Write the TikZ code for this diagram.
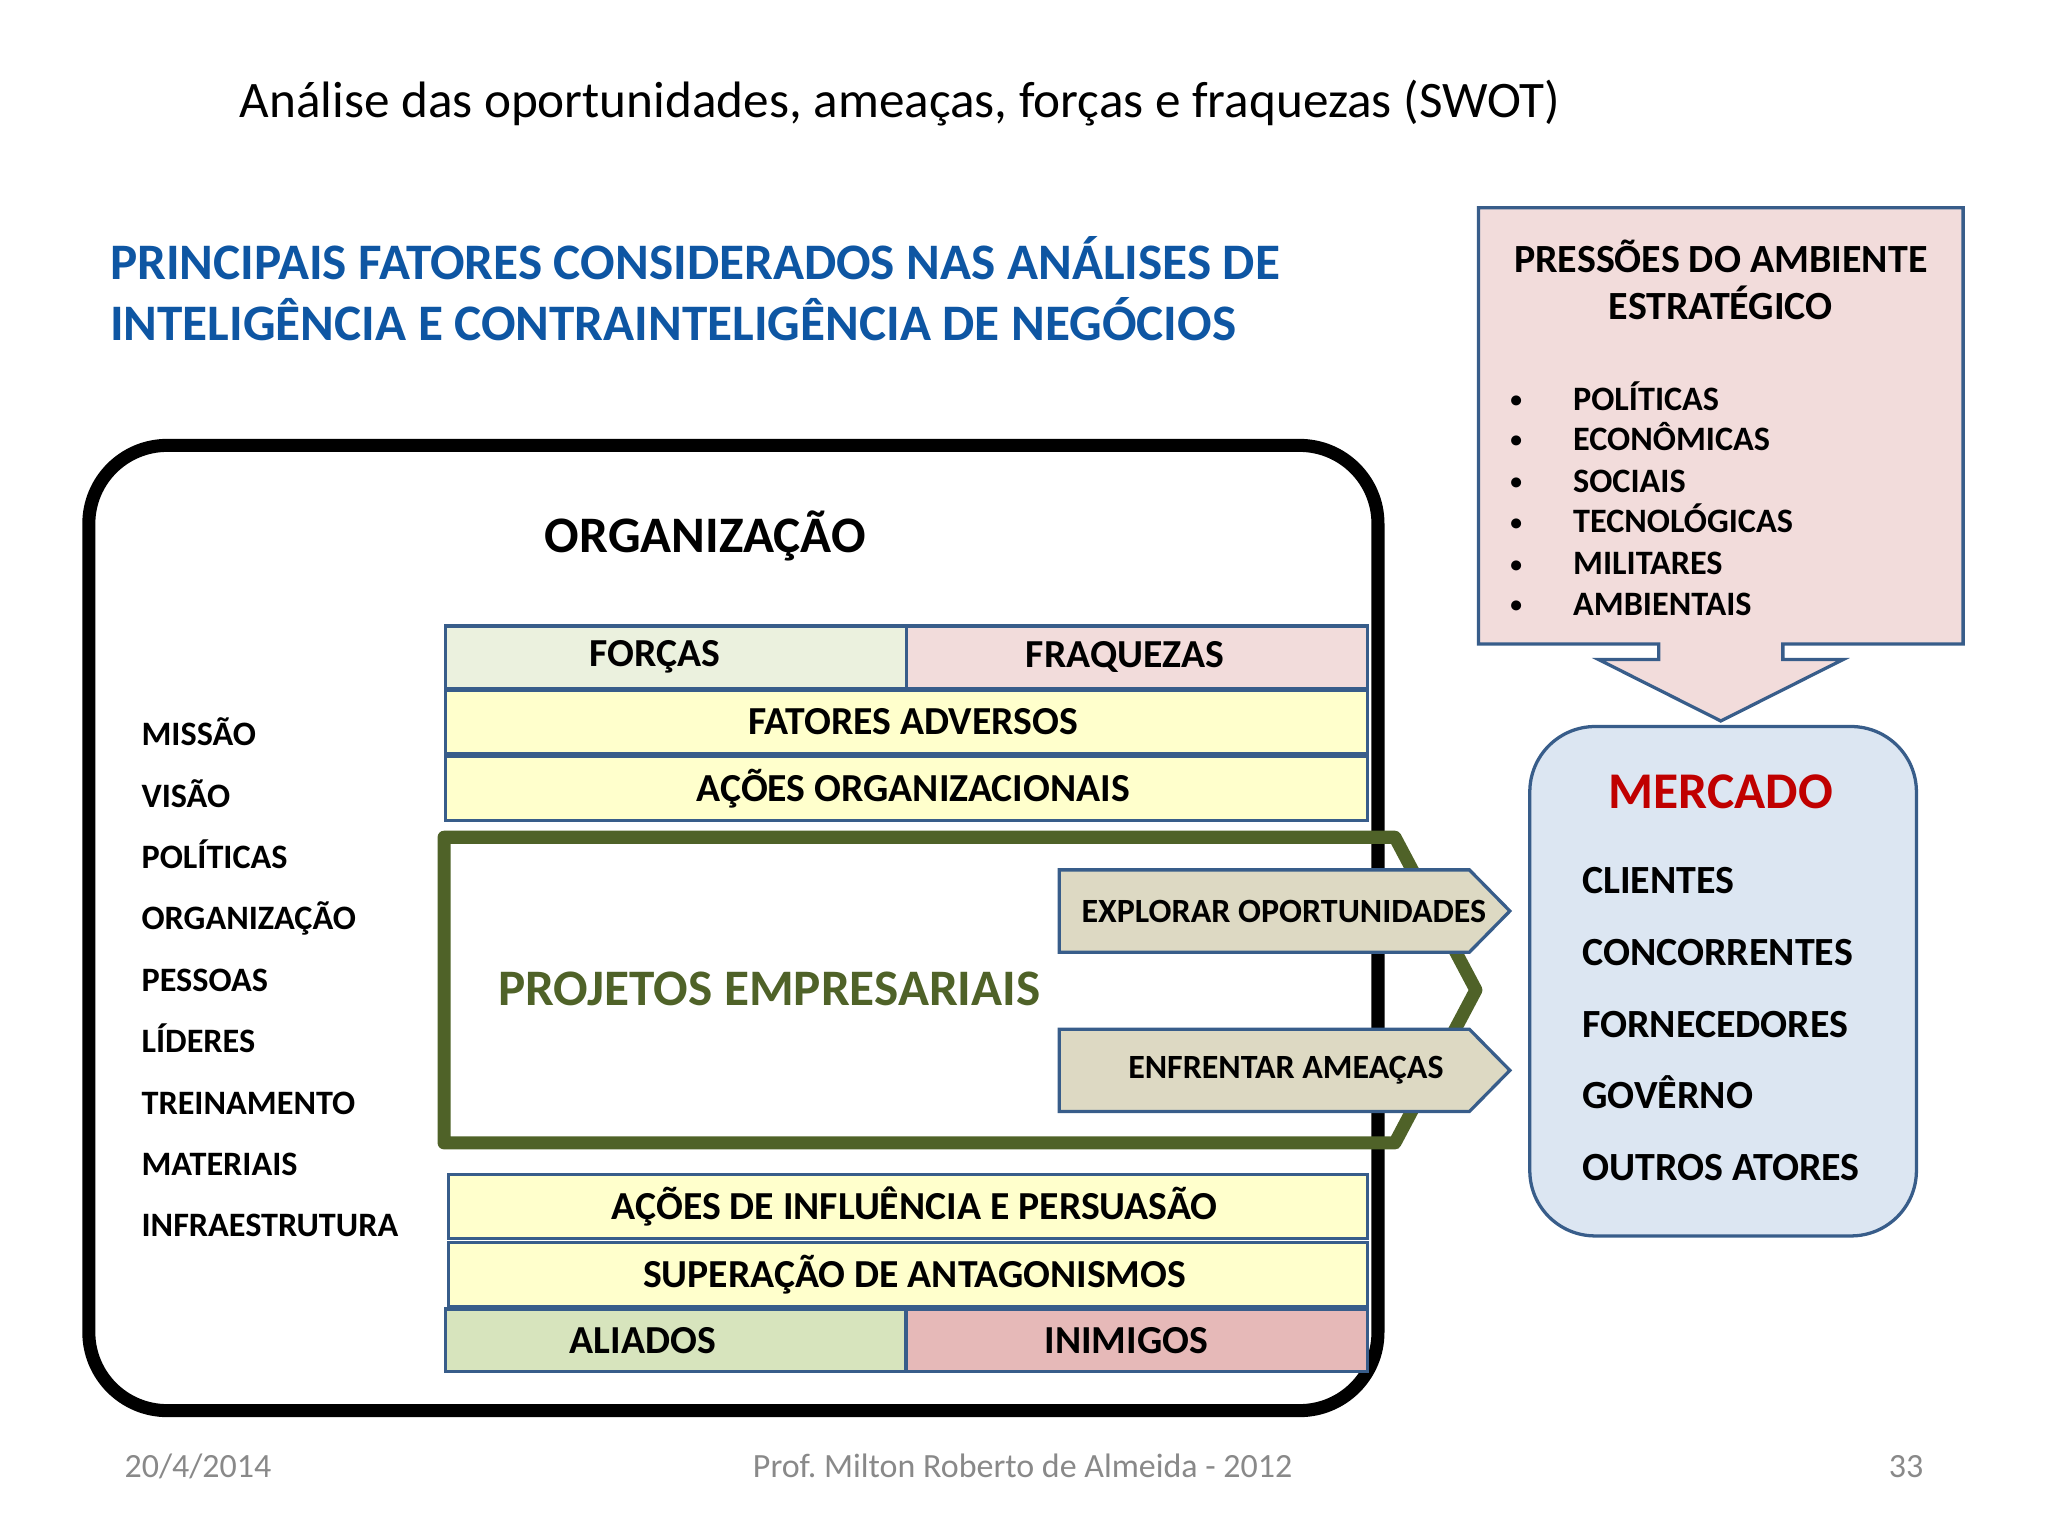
\documentclass[tikz,border=0pt]{standalone}
\usepackage{fontspec}
\setmainfont{Carlito}
\frenchspacing
\definecolor{boxblue}{HTML}{385D8A}
\definecolor{headblue}{HTML}{0E56A3}
\definecolor{pressfill}{HTML}{F2DCDB}
\definecolor{mercfill}{HTML}{DCE6F2}
\definecolor{forcfill}{HTML}{EBF1DE}
\definecolor{fraqfill}{HTML}{F2DCDB}
\definecolor{barfill}{HTML}{FFFFCC}
\definecolor{aliafill}{HTML}{D7E4BD}
\definecolor{inimfill}{HTML}{E6B9B8}
\definecolor{tanfill}{HTML}{DDD9C3}
\definecolor{olive}{HTML}{4F6228}
\definecolor{mercred}{HTML}{C00000}
\definecolor{footgray}{HTML}{898989}
\tikzset{
	every node/.style={inner sep=0pt},
	bar/.style={draw=boxblue,line width=1.25pt,anchor=north west,minimum height=24.5pt,font=\bfseries\fontsize{15.2}{18}\selectfont},
	leftitem/.style={anchor=base west,font=\bfseries\fontsize{13.1}{16}\selectfont},
	pressitem/.style={anchor=base west,font=\bfseries\fontsize{13.1}{16}\selectfont},
	bullet/.style={anchor=base west,font=\bfseries\fontsize{9}{12}\selectfont},
	mercitem/.style={anchor=base west,font=\bfseries\fontsize{15.3}{18}\selectfont},
	footer/.style={text=footgray,font=\fontsize{13}{16}\selectfont}
}
\begin{document}
\begin{tikzpicture}[x=0.5pt,y=-0.5pt]
			\useasboundingbox (0,0) rectangle (1568,1176);
			\node[anchor=base west,font=\fontsize{19.6}{23}\selectfont] (titulo) at (183,90) {Análise das oportunidades, ameaças, forças e fraquezas (SWOT)};
			\node[anchor=base west,text=headblue,font=\bfseries\fontsize{19.6}{24}\selectfont] (head1) at (84,214) {PRINCIPAIS FATORES CONSIDERADOS NAS ANÁLISES DE};
			\node[anchor=base west,text=headblue,font=\bfseries\fontsize{19.6}{24}\selectfont] (head2) at (84,261) {INTELIGÊNCIA E CONTRAINTELIGÊNCIA DE NEGÓCIOS};
			\draw [fill=pressfill,draw=boxblue,line width=1.25pt] (1132,159) -- (1503,159) -- (1503,493) -- (1365,493) -- (1365,505) -- (1411,505) -- (1317.5,552) -- (1224,505) -- (1270,505) -- (1270,493) -- (1132,493) -- cycle;
			\node[anchor=base,font=\bfseries\fontsize{15.3}{18}\selectfont] (press1) at (1317.5,209) {PRESSÕES DO AMBIENTE};
			\node[anchor=base,font=\bfseries\fontsize{15.3}{18}\selectfont] (press2) at (1317.5,245) {ESTRATÉGICO};
			\node[bullet] (b1) at (1156,312) {•};
			\node[bullet] (b2) at (1156,343) {•};
			\node[bullet] (b3) at (1156,375) {•};
			\node[bullet] (b4) at (1156,406) {•};
			\node[bullet] (b5) at (1156,438) {•};
			\node[bullet] (b6) at (1156,469) {•};
			\node[pressitem] (politicasp) at (1204,314) {POLÍTICAS};
			\node[pressitem] (economicas) at (1204,345) {ECONÔMICAS};
			\node[pressitem] (sociais) at (1204,377) {SOCIAIS};
			\node[pressitem] (tecnologicas) at (1204,408) {TECNOLÓGICAS};
			\node[pressitem] (militares) at (1204,440) {MILITARES};
			\node[pressitem] (ambientais) at (1204,471) {AMBIENTAIS};
			\node[draw=boxblue,fill=mercfill,line width=1.25pt,rounded corners=25pt,anchor=north west,minimum width=148pt,minimum height=195pt] (mercbox) at (1170,555) {};
			\node[anchor=base,text=mercred,font=\bfseries\fontsize{19.7}{24}\selectfont] (mercado) at (1317.5,619) {MERCADO};
			\node[mercitem] (clientes) at (1211,684) {CLIENTES};
			\node[mercitem] (concorrentes) at (1211,739) {CONCORRENTES};
			\node[mercitem] (fornecedores) at (1211,794) {FORNECEDORES};
			\node[mercitem] (governo) at (1211,849) {GOVÊRNO};
			\node[mercitem] (outros) at (1211,904) {OUTROS ATORES};
			\draw [line width=5pt,rounded corners=30pt] (68,341) rectangle (1055,1080);
			\node[anchor=base,font=\bfseries\fontsize{19.6}{24}\selectfont] (organizacao) at (540,423) {ORGANIZAÇÃO};
			\node[leftitem] (missao) at (108,571) {MISSÃO};
			\node[leftitem] (visao) at (108,618) {VISÃO};
			\node[leftitem] (politicas) at (108,665) {POLÍTICAS};
			\node[leftitem] (organizacaol) at (108,712) {ORGANIZAÇÃO};
			\node[leftitem] (pessoas) at (108,759) {PESSOAS};
			\node[leftitem] (lideres) at (108,806) {LÍDERES};
			\node[leftitem] (treinamento) at (108,853) {TREINAMENTO};
			\node[leftitem] (materiais) at (108,900) {MATERIAIS};
			\node[leftitem] (infra) at (108,947) {INFRAESTRUTURA};
			\node[bar,fill=forcfill,minimum width=176.5pt,minimum height=24pt] (forcas) at (340,478) {FORÇAS\hspace*{16.5pt}};
			\node[bar,fill=fraqfill,minimum width=176.5pt,minimum height=24pt] (fraquezas) at (693,478) {FRAQUEZAS\hspace*{9.5pt}};
			\node[bar,fill=barfill,minimum width=353pt] (fatores) at (340,527) {\hspace*{5pt}FATORES ADVERSOS};
			\node[bar,fill=barfill,minimum width=353pt] (acoes) at (340,578) {\hspace*{5pt}AÇÕES ORGANIZACIONAIS};
			\draw [line width=5pt,draw=olive,line join=round] (340,641) -- (1068,641) -- (1130,758) -- (1068,875) -- (340,875) -- cycle;
			\node[anchor=base west,text=olive,font=\bfseries\fontsize{19.6}{24}\selectfont] (projetos) at (381,770) {PROJETOS EMPRESARIAIS};
			\draw [fill=tanfill,draw=boxblue,line width=1.25pt] (811,666) -- (1125,666) -- (1156,697.5) -- (1125,729) -- (811,729) -- cycle;
			\draw [fill=tanfill,draw=boxblue,line width=1.25pt] (811,788) -- (1125,788) -- (1156,819.5) -- (1125,851) -- (811,851) -- cycle;
			\node[font=\bfseries\fontsize{13}{15}\selectfont] (explorar) at (983,697.5) {EXPLORAR OPORTUNIDADES};
			\node[font=\bfseries\fontsize{13}{15}\selectfont] (enfrentar) at (984.5,819.5) {ENFRENTAR AMEAÇAS};
			\node[bar,fill=barfill,minimum width=352pt] (influencia) at (342,898) {\hspace*{5pt}AÇÕES DE INFLUÊNCIA E PERSUASÃO};
			\node[bar,fill=barfill,minimum width=352pt] (superacao) at (342,950) {\hspace*{5pt}SUPERAÇÃO DE ANTAGONISMOS};
			\node[bar,fill=aliafill,minimum width=176pt,minimum height=24pt] (aliados) at (340,1001) {ALIADOS\hspace*{25pt}};
			\node[bar,fill=inimfill,minimum width=176.5pt,minimum height=24pt] (inimigos) at (693,1001) {INIMIGOS\hspace*{8.5pt}};
			\node[footer,anchor=base west] (data) at (95,1131) {20/4/2014};
			\node[footer,anchor=base] (autor) at (783,1131) {Prof. Milton Roberto de Almeida - 2012};
			\node[footer,anchor=base east] (pagina) at (1473,1131) {33};
		\end{tikzpicture}
\end{document}
